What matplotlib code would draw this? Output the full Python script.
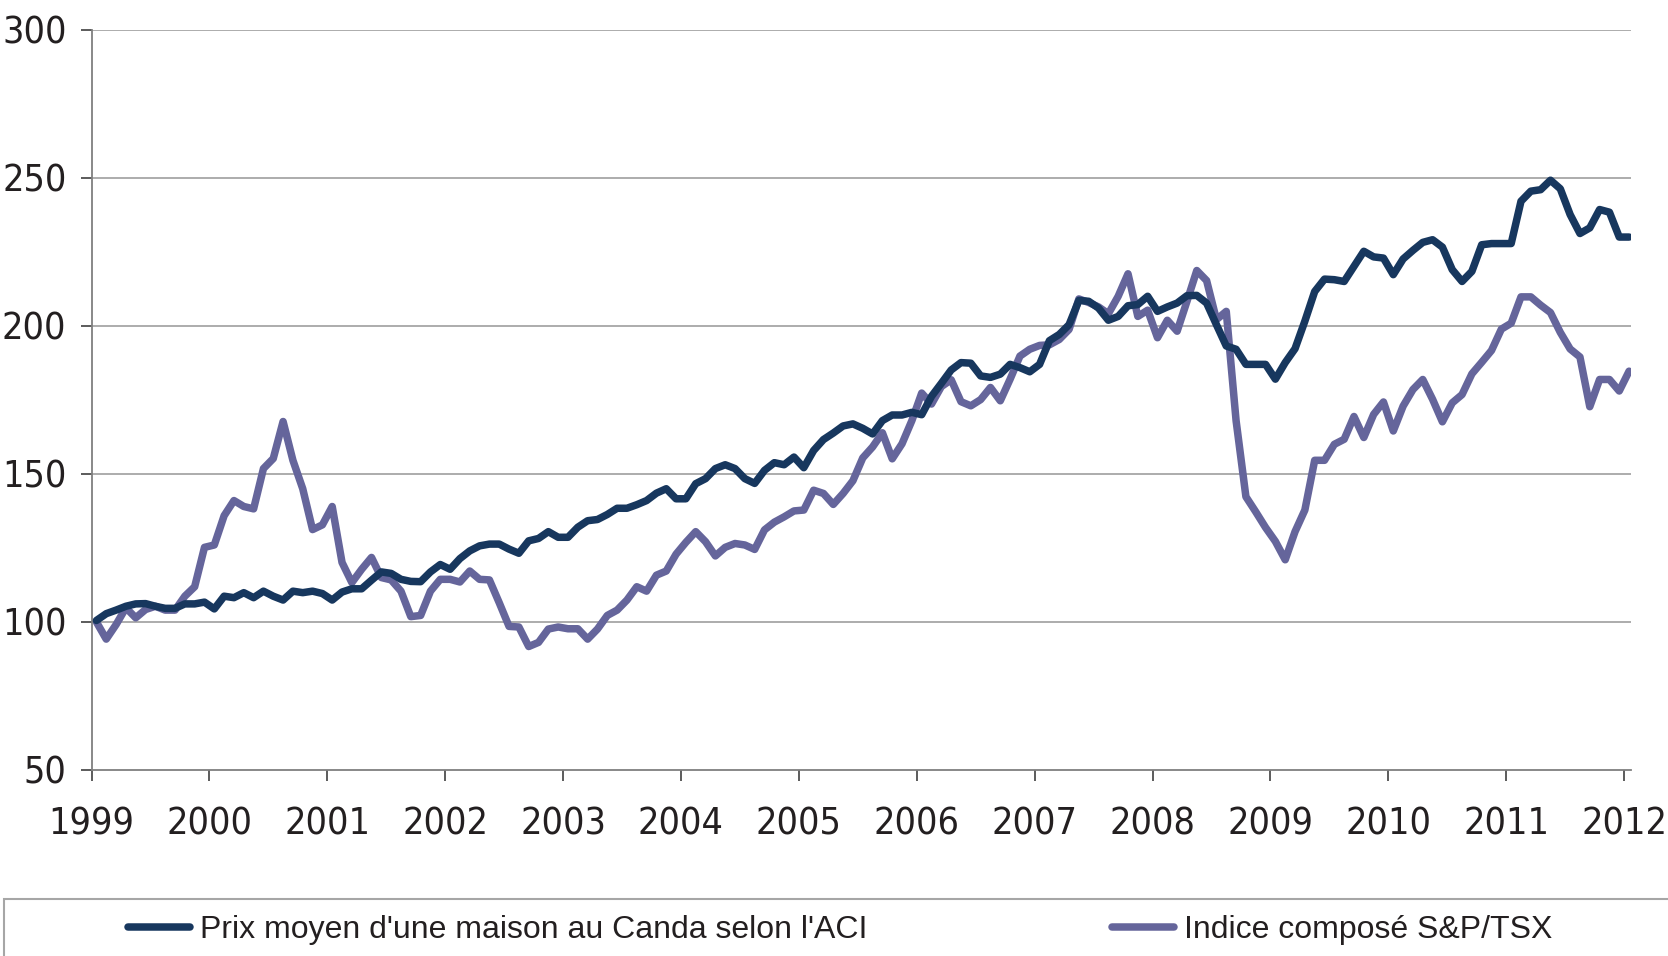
import os
import numpy as np
import matplotlib
matplotlib.use("Agg")
import matplotlib.pyplot as plt
from matplotlib.patches import Rectangle
from matplotlib import font_manager

plt.rcParams['font.family'] = ['Liberation Sans', 'DejaVu Sans']

# monthly index values, Jan 1999 -> Jan 2012 (base 100)
maison = [
    100.5, 102.8, 104.0, 105.3, 106.1, 106.2, 105.3, 104.6, 104.6, 106.1, 106.1, 106.7,  # 1999
    104.4, 108.7, 108.2, 109.9, 108.2, 110.4, 108.7, 107.4, 110.4, 109.9, 110.4, 109.6,  # 2000
    107.4, 110.1, 111.2, 111.2, 114.1, 116.9, 116.4, 114.4, 113.7, 113.6, 116.9, 119.4,  # 2001
    117.8, 121.4, 124.0, 125.7, 126.3, 126.3, 124.6, 123.2, 127.4, 128.2, 130.5, 128.6,  # 2002
    128.6, 132.0, 134.2, 134.6, 136.3, 138.4, 138.4, 139.6, 141.0, 143.5, 145.0, 141.6,  # 2003
    141.6, 146.7, 148.4, 151.8, 153.1, 151.8, 148.4, 146.8, 151.2, 153.8, 153.1, 155.7,  # 2004
    152.1, 157.9, 161.6, 163.8, 166.2, 166.9, 165.4, 163.5, 168.0, 169.9, 169.9, 170.8,  # 2005
    170.0, 176.2, 180.6, 185.1, 187.6, 187.4, 183.1, 182.6, 183.7, 187.0, 185.9, 184.5,  # 2006
    187.0, 195.0, 197.1, 200.4, 208.6, 208.3, 206.0, 201.9, 203.2, 206.8, 207.2, 210.0,  # 2007
    204.9, 206.4, 207.7, 210.2, 210.3, 207.7, 200.4, 193.2, 192.1, 187.0, 187.0, 187.0,  # 2008
    182.0, 187.6, 192.3, 201.6, 211.6, 215.8, 215.6, 215.0, 220.1, 225.2, 223.3, 222.9,  # 2009
    217.3, 222.6, 225.5, 228.2, 229.1, 226.6, 219.0, 215.0, 218.4, 227.4, 227.8, 227.8,  # 2010
    227.8, 242.1, 245.5, 246.0, 249.2, 246.3, 237.6, 231.2, 233.1, 239.3, 238.4, 230.0,  # 2011
    230.0,                                                                               # 2012
]

tsx = [
    100.0, 94.2, 99.1, 104.8, 101.4, 104.2, 105.3, 104.0, 104.0, 108.7, 111.9, 125.2,   # 1999
    126.0, 135.9, 141.0, 139.0, 138.2, 151.8, 155.2, 167.7, 154.6, 145.0, 131.2, 132.8,  # 2000
    139.0, 120.1, 113.3, 117.8, 121.8, 115.0, 114.2, 110.4, 101.8, 102.2, 110.4, 114.4,  # 2001
    114.4, 113.5, 117.2, 114.4, 114.2, 106.5, 98.5, 98.3, 91.7, 93.1, 97.6, 98.3,        # 2002
    97.7, 97.7, 94.2, 97.6, 102.2, 104.0, 107.4, 111.9, 110.4, 115.8, 117.2, 122.9,      # 2003
    126.9, 130.5, 127.1, 122.3, 125.2, 126.5, 126.0, 124.5, 131.1, 133.7, 135.5, 137.5,  # 2004
    137.8, 144.5, 143.4, 139.7, 143.4, 147.7, 155.4, 159.1, 163.9, 155.1, 160.2, 168.0,  # 2005
    177.3, 173.6, 179.5, 181.8, 174.4, 173.0, 175.1, 179.2, 174.7, 182.0, 189.8, 192.1,  # 2006
    193.4, 193.6, 195.4, 198.8, 209.1, 207.9, 206.4, 204.1, 210.0, 217.6, 203.2, 205.3,  # 2007
    196.0, 201.9, 198.2, 208.3, 218.7, 215.3, 202.1, 204.9, 168.0, 142.3, 137.2, 131.9,  # 2008
    127.2, 121.0, 130.5, 137.8, 154.6, 154.6, 160.0, 161.7, 169.4, 162.3, 170.1, 174.3,  # 2009
    164.5, 172.9, 178.5, 181.9, 175.2, 167.6, 174.0, 176.8, 183.8, 187.7, 191.7, 198.9,  # 2010
    200.9, 209.8, 209.8, 207.0, 204.5, 197.8, 192.2, 189.5, 172.7, 181.9, 181.9, 178.0,  # 2011
    184.7,                                                                               # 2012
]

labels = ["Prix moyen d'une maison au Canda selon l'ACI", "Indice composé S&P/TSX"]
annees = list(range(1999, 2013))
y_ticks = [50, 100, 150, 200, 250, 300]

couleur_maison = "#17375e"
couleur_tsx = "#65659b"


def police_etroite(taille):
    # axis numbers in the original use a narrow face; take the narrowest regular one installed
    mauvais = ("Bold", "Italic", "Oblique", "Light", "Semi", "Extra", "Medium",
               "Black", "Thin", "Ultra")
    choix = {}
    for f in font_manager.fontManager.ttflist:
        base = os.path.basename(f.fname)
        if any(m in base for m in mauvais):
            continue
        if f.name == "Liberation Sans Narrow":
            choix.setdefault(0, f.fname)
        elif "Condensed" in base:
            if base.startswith("NotoSans-") or base.startswith("NotoSans_"):
                choix.setdefault(1, f.fname)
            elif base.startswith("OpenSans"):
                choix.setdefault(2, f.fname)
            elif base.startswith("DejaVuSans"):
                choix.setdefault(3, f.fname)
    if choix:
        return font_manager.FontProperties(fname=choix[min(choix)], size=taille)
    return font_manager.FontProperties(family=["Liberation Sans", "DejaVu Sans"], size=taille - 2)


# mid-month positions on a fractional year axis
x = 1999 + (np.arange(len(maison)) + 0.5) / 12

fig = plt.figure(figsize=(16.68, 9.56), dpi=100)
ax = fig.add_axes([91.5 / 1668, 1 - 770 / 956, (1631 - 91.5) / 1668, (770 - 29.8) / 956])

for v in y_ticks[1:]:
    ax.axhline(v, color="#a6a6a6", lw=1.3, zorder=1)

l1, = ax.plot(x, maison, color=couleur_maison, lw=5.4, solid_joinstyle="round",
              solid_capstyle="round", zorder=3)
l2, = ax.plot(x, tsx, color=couleur_tsx, lw=5.4, solid_joinstyle="round",
              solid_capstyle="round", zorder=2)

ax.set_xlim(1999, 2012.058)
ax.set_ylim(50, 300)
ax.set_xticks(annees)
ax.set_yticks(y_ticks)

fp = police_etroite(27)
ax.set_xticklabels([str(a) for a in annees], fontproperties=fp)
ax.set_yticklabels([str(v) for v in y_ticks], fontproperties=fp)

for s in ["top", "right"]:
    ax.spines[s].set_visible(False)
for s in ["left", "bottom"]:
    ax.spines[s].set_color("#7f7f7f")
    ax.spines[s].set_linewidth(1.3)

ax.tick_params(axis="y", direction="out", length=8, width=1.2, color="#404040",
               pad=10, labelcolor="#231f20")
ax.tick_params(axis="x", direction="out", length=8, width=1.2, color="#404040",
               pad=18, labelcolor="#231f20")

# legend box runs off the bottom/right edge like the original
fig.add_artist(Rectangle((4 / 1668, -0.2), 1.2, (1 - 899 / 956) + 0.2,
                         transform=fig.transFigure, fill=False,
                         ec="#a6a6a6", lw=1.5))

leg_font = {"family": ["Liberation Sans", "DejaVu Sans"], "size": 23}
leg1 = fig.legend(handles=[l1], labels=[labels[0]], loc="center left",
                  bbox_to_anchor=(128 / 1668, 1 - 930 / 956), frameon=False,
                  borderpad=0, borderaxespad=0, handlelength=1.95,
                  handletextpad=0.3, prop=leg_font)
leg2 = fig.legend(handles=[l2], labels=[labels[1]], loc="center left",
                  bbox_to_anchor=(1112 / 1668, 1 - 930 / 956), frameon=False,
                  borderpad=0, borderaxespad=0, handlelength=1.95,
                  handletextpad=0.3, prop=leg_font)
for t in leg1.get_texts() + leg2.get_texts():
    t.set_color("#231f20")

fig.savefig("out.png", dpi=100)
